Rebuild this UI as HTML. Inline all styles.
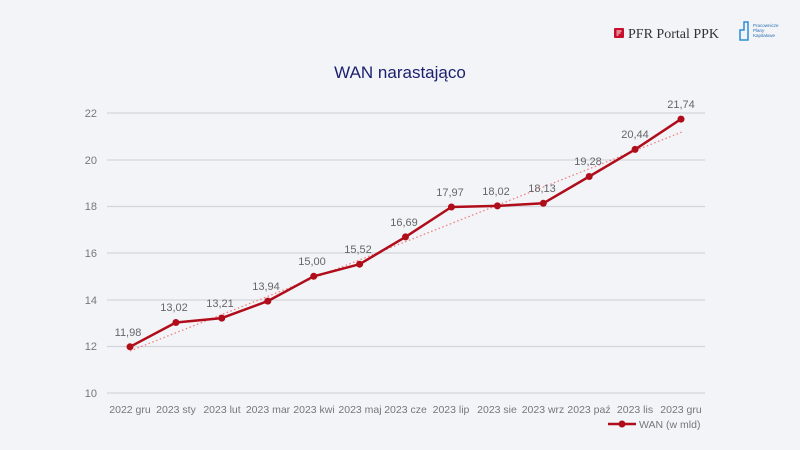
<!DOCTYPE html>
<html><head><meta charset="utf-8"><style>
body{margin:0;background:#f3f4f8;}
svg{display:block;font-family:"Liberation Sans",sans-serif;}
</style></head><body>
<svg width="800" height="450" viewBox="0 0 800 450">
<rect width="800" height="450" fill="#f3f4f8"/>
<rect x="614" y="28" width="10" height="10" fill="#c8102e" rx="1"/>
<path d="M616.5 31h5M616.5 33h4M616.5 35h2" stroke="#fff" stroke-width="1"/>
<text x="628" y="38" font-family="Liberation Serif,serif" font-size="14" fill="#333">PFR Portal PPK</text>
<path d="M740 40v-10h4v-8h4v18z" fill="none" stroke="#2a8fd6" stroke-width="1.5"/>
<text x="753" y="27" font-size="4.5" fill="#2a6fb0">Pracownicze</text>
<text x="753" y="32" font-size="4.5" fill="#2a6fb0">Plany</text>
<text x="753" y="37" font-size="4.5" fill="#2a6fb0">Kapitałowe</text>
<text x="400" y="78" text-anchor="middle" font-size="17" fill="#1a1f6e">WAN narastająco</text>
<g stroke="#d4d5da" stroke-width="1.2">
<line x1="107" x2="705" y1="113" y2="113"/><line x1="107" x2="705" y1="160" y2="160"/>
<line x1="107" x2="705" y1="206.5" y2="206.5"/><line x1="107" x2="705" y1="253" y2="253"/>
<line x1="107" x2="705" y1="300" y2="300"/><line x1="107" x2="705" y1="346.5" y2="346.5"/>
<line x1="107" x2="705" y1="393" y2="393"/>
</g>
<g font-size="11" fill="#777" text-anchor="end">
<text x="97" y="117">22</text><text x="97" y="164">20</text><text x="97" y="210">18</text>
<text x="97" y="257">16</text><text x="97" y="304">14</text><text x="97" y="350">12</text><text x="97" y="397">10</text>
</g>
<g font-size="10.5" fill="#777" text-anchor="middle">
<text x="130" y="413">2022 gru</text><text x="176" y="413">2023 sty</text><text x="222" y="413">2023 lut</text>
<text x="268" y="413">2023 mar</text><text x="314" y="413">2023 kwi</text><text x="360" y="413">2023 maj</text>
<text x="405.5" y="413">2023 cze</text><text x="451" y="413">2023 lip</text><text x="497" y="413">2023 sie</text>
<text x="543" y="413">2023 wrz</text><text x="589" y="413">2023 paź</text><text x="635" y="413">2023 lis</text>
<text x="681" y="413">2023 gru</text>
</g>
<line x1="130" y1="351" x2="682" y2="132" stroke="#f08080" stroke-width="1.3" stroke-dasharray="1.5,2.5"/>
<polyline fill="none" stroke="#b00d1a" stroke-width="2.5" stroke-linejoin="round" points="130,346.8 175.9,322.5 221.8,318.1 267.8,301.1 313.7,276.3 359.6,264.2 405.5,236.9 451.4,207 497.4,205.9 543.3,203.3 589.2,176.5 635.1,149.4 681,119.1"/>
<g fill="#b00d1a">
<circle cx="130" cy="346.8" r="3.5"/><circle cx="175.9" cy="322.5" r="3.5"/><circle cx="221.8" cy="318.1" r="3.5"/>
<circle cx="267.8" cy="301.1" r="3.5"/><circle cx="313.7" cy="276.3" r="3.5"/><circle cx="359.6" cy="264.2" r="3.5"/>
<circle cx="405.5" cy="236.9" r="3.5"/><circle cx="451.4" cy="207" r="3.5"/><circle cx="497.4" cy="205.9" r="3.5"/>
<circle cx="543.3" cy="203.3" r="3.5"/><circle cx="589.2" cy="176.5" r="3.5"/><circle cx="635.1" cy="149.4" r="3.5"/>
<circle cx="681" cy="119.1" r="3.5"/>
</g>
<g font-size="11" fill="#666" text-anchor="middle">
<text x="128" y="336">11,98</text><text x="174" y="311">13,02</text><text x="220" y="307">13,21</text>
<text x="266" y="290">13,94</text><text x="312" y="265">15,00</text><text x="358" y="253">15,52</text>
<text x="404" y="226">16,69</text><text x="450" y="196">17,97</text><text x="496" y="195">18,02</text>
<text x="542" y="192">18,13</text><text x="588" y="165">19,28</text><text x="635" y="138">20,44</text>
<text x="681" y="108">21,74</text>
</g>
<line x1="608" y1="424" x2="636" y2="424" stroke="#b00d1a" stroke-width="2.5"/>
<circle cx="622" cy="424" r="3.5" fill="#b00d1a"/>
<text x="639" y="428" font-size="10.5" fill="#777">WAN (w mld)</text>
</svg>
</body></html>
